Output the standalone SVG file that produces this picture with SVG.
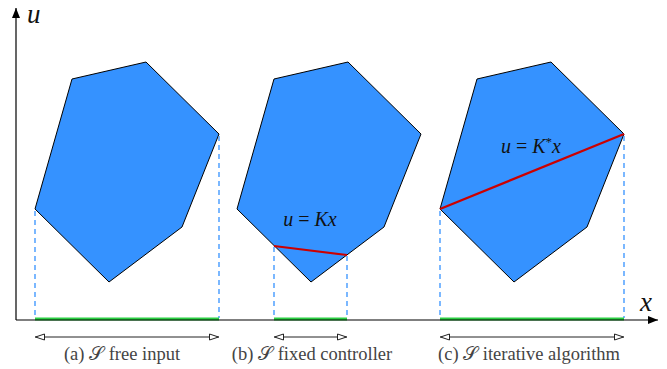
<svg xmlns="http://www.w3.org/2000/svg" width="667" height="369" viewBox="0 0 667 369">
<defs>
<style>
.poly{fill:#3592ff;stroke:#000;stroke-width:1}
.dash{stroke:#3592ff;stroke-width:1.3;stroke-dasharray:5,4;fill:none}
.green{stroke:#2ccf44;stroke-width:3}
.red{stroke:#cc0000;stroke-width:2.2}
.dim{stroke:#222;stroke-width:1;marker-start:url(#ha);marker-end:url(#hb)}
.cap{font-family:'Liberation Serif','DejaVu Serif',serif;font-size:18.5px;fill:#444;text-anchor:middle}
.math{font-family:'Liberation Serif','DejaVu Serif',serif;font-style:italic;fill:#111}
</style>
<marker id="arr" viewBox="0 0 10 10" refX="10" refY="5" markerWidth="10" markerHeight="10" markerUnits="userSpaceOnUse" orient="auto"><path d="M0,1 L10,5 L0,9 Z" fill="#000"/></marker>
<marker id="hb" viewBox="0 0 10 8" refX="10" refY="4" markerWidth="10" markerHeight="8" markerUnits="userSpaceOnUse" orient="auto"><path d="M0.5,1 L9.5,4 L0.5,7 Z" fill="#fff" stroke="#222" stroke-width="1"/></marker>
<marker id="ha" viewBox="0 0 10 8" refX="0" refY="4" markerWidth="10" markerHeight="8" markerUnits="userSpaceOnUse" orient="auto"><path d="M9.5,1 L0.5,4 L9.5,7 Z" fill="#fff" stroke="#222" stroke-width="1"/></marker>
</defs>
<rect width="667" height="369" fill="#fff"/>
<g id="poly-a"><polygon class="poly" points="35,209 72,79 146,62 219,134 182,227 109,282"/></g>
<g id="poly-b"><polygon class="poly" points="237,209 274,79 348,62 421,134 384,227 311,282"/>
<line class="red" x1="274" y1="246" x2="347" y2="255"/>
<text class="math" x="310" y="226" font-size="20" text-anchor="middle">u <tspan font-style="normal">=</tspan> Kx</text></g>
<g id="poly-c"><polygon class="poly" points="440,209 477,79 551,62 624,134 587,227 514,282"/>
<line class="red" x1="440" y1="209" x2="624" y2="134"/>
<text class="math" x="531" y="153" font-size="20" text-anchor="middle">u <tspan font-style="normal">=</tspan> K<tspan font-style="normal" font-size="13" dy="-7">*</tspan><tspan dy="7">x</tspan></text></g>
<g id="connectors">
<path class="dash" d="M35,211V318M219,136V318M274,247V318M347,256V318M440,211V318M624,136V318"/>
<line class="green" x1="35" y1="319" x2="219" y2="319"/>
<line class="green" x1="274" y1="319" x2="347" y2="319"/>
<line class="green" x1="440" y1="319" x2="624" y2="319"/>
<line x1="16" y1="320" x2="16" y2="8" stroke="#000" stroke-width="1.2" marker-end="url(#arr)"/>
<line x1="16" y1="320" x2="658" y2="320" stroke="#000" stroke-width="1.2" marker-end="url(#arr)"/>
<line class="dim" x1="35" y1="337" x2="219" y2="337"/>
<line class="dim" x1="274" y1="337" x2="347" y2="337"/>
<line class="dim" x1="440" y1="337" x2="624" y2="337"/>
</g>
<text class="math" x="27" y="23" font-size="27">u</text>
<text class="math" x="640" y="311" font-size="27">x</text>
<text class="cap" x="122" y="360">(a) 𝒮 free input</text>
<text class="cap" x="312" y="360">(b) 𝒮 fixed controller</text>
<text class="cap" x="529" y="360">(c) 𝒮 iterative algorithm</text>
</svg>
